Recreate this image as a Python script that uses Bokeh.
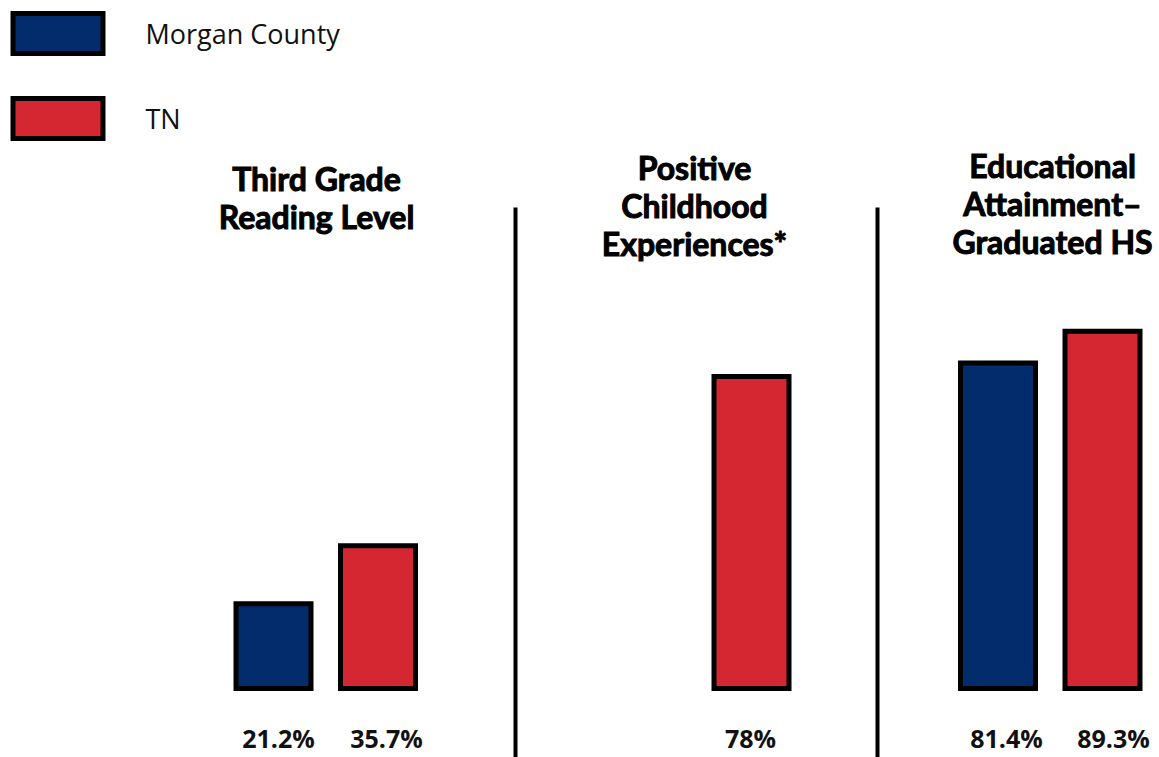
from bokeh.plotting import figure
from bokeh.models import Range1d
from bokeh.core.properties import value
from bokeh.embed import file_html
from bokeh.resources import INLINE

# ---- data ----
groups = ["Third Grade Reading Level", "Positive Childhood Experiences*", "Educational Attainment–Graduated HS"]
title_lines = [["Third Grade", "Reading Level"],
               ["Positive", "Childhood", "Experiences*"],
               ["Educational", "Attainment–", "Graduated HS"]]
series_names = ["Morgan County", "TN"]
morgan = [21.2, None, 81.4]
tn = [35.7, 78.0, 89.3]
morgan_labels = ["21.2%", "", "81.4%"]
tn_labels = ["35.7%", "78%", "89.3%"]

BLUE = "#022C6B"
RED = "#D42731"

# ---- layout helpers (image pixel -> data) ----
W, H = 1159, 757
BASE = 688.0   # image y of baseline
K = 4.0        # px per percent
def Y(img_y):
    return (BASE - img_y) / K

p = figure(width=W, height=H, output_backend="svg", toolbar_location=None,
           x_range=Range1d(0, W), y_range=Range1d(Y(H), Y(0)),
           min_border=0, outline_line_color=None)
p.axis.visible = False
p.grid.visible = False
p.background_fill_color = "white"

# bar positions (pixel centres) per group
blue_x = [273, None, 997.5]
red_x = [377.5, 751, 1102]
blue_lab_dx = [5, 0, 8.5]
red_lab_dx = [8.5, -1, 11]
BW = 75

bx, bt = [], []
for xc, v in zip(blue_x, morgan):
    if v is not None:
        bx.append(xc); bt.append(v)
rx, rt = list(red_x), list(tn)

p.vbar(x=bx, top=bt, bottom=0, width=BW, fill_color=BLUE,
       line_color="black", line_width=5, line_join="miter")
p.vbar(x=rx, top=rt, bottom=0, width=BW, fill_color=RED,
       line_color="black", line_width=5, line_join="miter")

# value labels
lab_font = value("Open Sans")
lx, lt = [], []
for xc, dx, t in zip(blue_x, blue_lab_dx, morgan_labels):
    if t:
        lx.append(xc + dx); lt.append(t)
for xc, dx, t in zip(red_x, red_lab_dx, tn_labels):
    lx.append(xc + dx); lt.append(t)
ly = [Y(737)] * len(lx)
p.text(x=lx, y=ly, text=lt, text_font=lab_font, text_font_style="bold",
       text_font_size="25px", text_align="center", text_baseline="middle",
       text_color="#111111")

# group titles
title_font = value("Lato")
title_cx = [316, 694, 1052]
title_top = [178, 167, 165]
LINE = 38
tx, ty, tt = [], [], []
for cx, top, lines in zip(title_cx, title_top, title_lines):
    for i, ln in enumerate(lines):
        tx.append(cx); ty.append(Y(top + i * LINE)); tt.append(ln)
p.text(x=tx, y=ty, text=tt, text_font=title_font, text_font_style="bold",
       text_font_size="32px", text_align="center", text_baseline="middle",
       text_color="black", text_outline_color="black")

# separators
p.segment(x0=[515, 877], y0=[Y(207)] * 2, x1=[515, 877], y1=[Y(H)] * 2,
          line_color="black", line_width=4)

# legend
leg_cy = [33, 118]
leg_colors = [BLUE, RED]
p.quad(left=[12.5] * 2, right=[102.5] * 2,
       top=[Y(c - 20) for c in leg_cy], bottom=[Y(c + 20) for c in leg_cy],
       fill_color=leg_colors, line_color="black", line_width=5, line_join="miter")
p.text(x=[145] * 2, y=[Y(c) for c in leg_cy], text=series_names,
       text_font=value("Open Sans"), text_font_size="27px",
       text_align="left", text_baseline="middle", text_color="#111111")

open("out.html", "w").write(file_html(p, INLINE))
